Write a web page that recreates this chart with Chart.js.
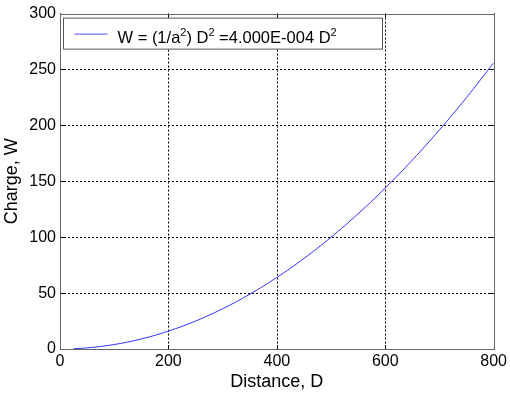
<!DOCTYPE html>
<html><head><meta charset="utf-8">
<script src="https://cdn.jsdelivr.net/npm/chart.js@4/dist/chart.umd.min.js"></script>
<style>html,body{margin:0;padding:0;background:#fff}#wrap{width:510px;height:394px}</style>
</head><body><div id="wrap"><canvas id="c" width="510" height="394"></canvas></div>
<script>
const distance = [25, 50, 100, 150, 200, 250, 300, 350, 400, 450, 500, 550, 600, 650, 700, 750, 800];
const charge = [0.25, 1, 4, 9, 16, 25, 36, 49, 64, 81, 100, 121, 144, 169, 196, 225, 256];
const xTicks = [0, 200, 400, 600, 800];
const yTicks = [0, 50, 100, 150, 200, 250, 300];
const legendParts = [["W = (1/a", false], ["2", true], [") D", false], ["2", true], [" =4.000E-004 D", false], ["2", true]];
const xTitle = "Distance, D";
const yTitle = "Charge, W";

const FONT = "Arial, 'Liberation Sans', sans-serif";

const boxPlugin = {
  id: 'boxPlugin',
  beforeDatasetsDraw(chart) {
    const {ctx, chartArea: a, scales} = chart;
    ctx.save();
    ctx.strokeStyle = '#000';
    ctx.lineWidth = 1;
    ctx.setLineDash([2, 2]);
    ctx.beginPath();
    xTicks.forEach(v => {
      const x = Math.round(scales.x.getPixelForValue(v)) + 0.5;
      ctx.moveTo(x, a.top); ctx.lineTo(x, a.bottom);
    });
    yTicks.forEach(v => {
      const y = Math.round(scales.y.getPixelForValue(v)) + 0.5;
      ctx.moveTo(a.left, y); ctx.lineTo(a.right, y);
    });
    ctx.stroke();
    ctx.restore();
  },
  afterDatasetsDraw(chart) {
    const {ctx, chartArea: a, scales} = chart;
    ctx.save();
    ctx.strokeStyle = '#000';
    ctx.lineWidth = 1;
    ctx.beginPath();
    xTicks.forEach(v => {
      const x = Math.round(scales.x.getPixelForValue(v)) + 0.5;
      ctx.moveTo(x, a.bottom); ctx.lineTo(x, a.bottom - 4);
      ctx.moveTo(x, a.top); ctx.lineTo(x, a.top + 4);
    });
    yTicks.forEach(v => {
      const y = Math.round(scales.y.getPixelForValue(v)) + 0.5;
      ctx.moveTo(a.left, y); ctx.lineTo(a.left + 4, y);
      ctx.moveTo(a.right, y); ctx.lineTo(a.right - 4, y);
    });
    ctx.stroke();
    ctx.strokeStyle = '#666';
    ctx.strokeRect(Math.round(a.left) + 0.5, Math.round(a.top) + 0.5, Math.round(a.right - a.left), Math.round(a.bottom - a.top));
    const lx = a.left + 3.5, ly = a.top + 4.5, lw = 319, lh = 31;
    ctx.fillStyle = '#fff';
    ctx.fillRect(lx, ly, lw, lh);
    ctx.strokeStyle = '#555';
    ctx.strokeRect(lx, ly, lw, lh);
    ctx.strokeStyle = '#4d4dff';
    ctx.beginPath();
    ctx.moveTo(lx + 11, ly + 16); ctx.lineTo(lx + 44, ly + 16);
    ctx.stroke();
    ctx.fillStyle = '#000';
    ctx.textBaseline = 'alphabetic';
    ctx.textAlign = 'left';
    let tx = lx + 54;
    const base = ly + 24.5;
    legendParts.forEach(([t, sup]) => {
      ctx.font = (sup ? '11px ' : '16.5px ') + FONT;
      ctx.fillText(t, tx, sup ? base - 7 : base);
      tx += ctx.measureText(t).width;
    });
    ctx.restore();
  }
};

new Chart(document.getElementById('c'), {
  type: 'line',
  data: {
    datasets: [{
      data: distance.map((d, i) => ({x: d, y: charge[i]})),
      borderColor: '#3333ff',
      borderWidth: 1,
      pointRadius: 0,
      tension: 0.4,
      fill: false
    }]
  },
  options: {
    responsive: false,
    animation: false,
    layout: {padding: {left: 0, top: 13, right: 15, bottom: 0}},
    plugins: {legend: {display: false}, tooltip: {enabled: false}},
    scales: {
      x: {
        type: 'linear', min: 0, max: 800,
        afterFit(s) { s.height = 45; },
        afterBuildTicks(s) { s.ticks = xTicks.map(v => ({value: v})); },
        grid: {display: false, drawTicks: false},
        border: {display: false},
        ticks: {color: '#000', font: {family: FONT, size: 16}, padding: 3, maxRotation: 0},
        title: {display: true, text: xTitle, color: '#000', font: {family: FONT, size: 18}, padding: {top: 0, bottom: 1}}
      },
      y: {
        min: 0, max: 300,
        afterFit(s) { s.width = 60; },
        afterBuildTicks(s) { s.ticks = yTicks.map(v => ({value: v})); },
        grid: {display: false, drawTicks: false},
        border: {display: false},
        ticks: {color: '#000', font: {family: FONT, size: 16}, padding: 4},
        title: {display: true, text: yTitle, color: '#000', font: {family: FONT, size: 18}, padding: {top: 1, bottom: 0}}
      }
    }
  },
  plugins: [boxPlugin]
});
</script></body></html>
